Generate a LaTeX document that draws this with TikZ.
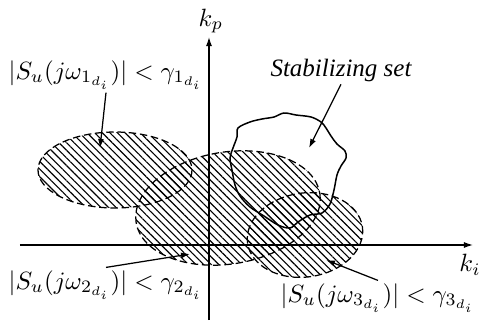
\documentclass[tikz,border=0pt]{standalone}
\usepackage{fontspec}
\newfontfamily\setfont{Liberation Serif}
\usetikzlibrary{patterns.meta,arrows.meta}
\begin{document}
\begin{tikzpicture}[x=0.4pt,y=-0.4pt]
    \tikzset{region/.style={pattern={Lines[angle=-45,distance=2.15pt,line width=0.45pt]}},
      rim/.style={dash pattern=on 3pt off 1.5pt, line width=0.5pt},
      axis/.style={-{Latex[length=3.6pt,width=2.4pt]}, line width=0.5pt},
      pointer/.style={-{Latex[length=3.6pt,width=2.4pt]}, line width=0.5pt},
      lbl/.style={inner sep=1pt}}
    \useasboundingbox (0,0) rectangle (482,327);
    % hatched regions
    \fill[region] (115,170) ellipse [x radius=77, y radius=38];
    \fill[region, rotate around={9:(228,208)}] (228,208) ellipse [x radius=93, y radius=56];
    \fill[region, rotate around={8:(305,235)}] (305,235) ellipse [x radius=58, y radius=42];
    % dashed rims on top
    \draw[rim] (115,170) ellipse [x radius=77, y radius=38];
    \draw[rim, rotate around={9:(228,208)}] (228,208) ellipse [x radius=93, y radius=56];
    \draw[rim, rotate around={8:(305,235)}] (305,235) ellipse [x radius=58, y radius=42];
    % stabilizing set
    \draw[line width=0.6pt] plot[smooth cycle, tension=0.55] coordinates {
      (238,128) (250,122) (262,119) (274,117) (284,113) (296,115) (311,117)
      (321,122) (326,128) (331,136) (337,144) (345,151) (346,158) (341,166)
      (337,175) (334,190) (330,204) (322,213) (310,215) (298,222) (290,228)
      (278,225) (264,216) (250,207) (240,196) (235,185) (232,170) (230,158)
      (233,148) (237,137)};
    % axes
    \coordinate (xs) at (20,245);
    \coordinate (xe) at (473,245);
    \coordinate (ys) at (209,320);
    \coordinate (ye) at (209,37);
    \draw[axis] (xs) -- (xe);
    \draw[axis] (ys) -- (ye);
    \node (kp) at (211,21) {$k_p$};
    \node (ki) at (470,265) {$k_i$};
    % labels and pointers
    \node[lbl] (lab1) at (106,75) {$|S_u(j\omega_{1_{d_i}})| < \gamma_{1_{d_i}}$};
    \node[lbl] (lab2) at (106,285) {$|S_u(j\omega_{2_{d_i}})| < \gamma_{2_{d_i}}$};
    \node[lbl] (lab3) at (378,298) {$|S_u(j\omega_{3_{d_i}})| < \gamma_{3_{d_i}}$};
    \node[lbl] (stab) at (341,70) {\setfont\itshape Stabilizing set};
    \coordinate (tip1) at (100,148);
    \coordinate (tip2) at (190,254);
    \coordinate (tip3) at (326,260);
    \coordinate (tips) at (309,148);
    \draw[pointer] (lab1.south) -- (tip1);
    \draw[pointer] (lab2.north) -- (tip2);
    \draw[pointer] (lab3.north) -- (tip3);
    \draw[pointer] (stab.south) -- (tips);
\end{tikzpicture}
\end{document}
